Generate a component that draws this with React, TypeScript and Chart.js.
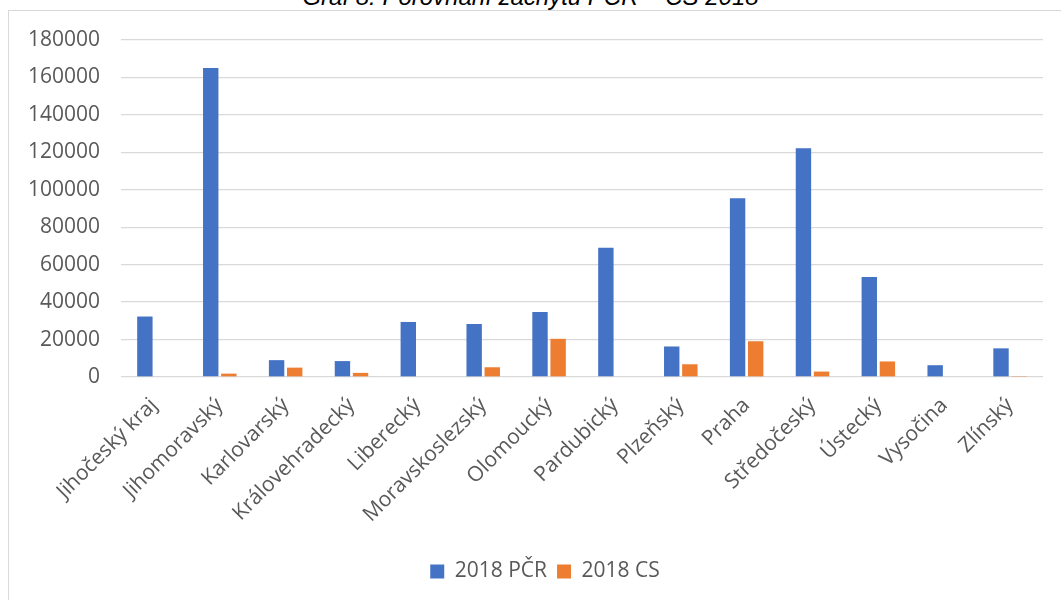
import React, { useEffect, useRef } from "react";
import { Chart, registerables } from "chart.js";

Chart.register(...registerables);

const categories = [
  "Jihočeský kraj",
  "Jihomoravský",
  "Karlovarský",
  "Královehradecký",
  "Liberecký",
  "Moravskoslezský",
  "Olomoucký",
  "Pardubický",
  "Plzeňský",
  "Praha",
  "Středočeský",
  "Ústecký",
  "Vysočina",
  "Zlínský",
];

const pcr2018 = [32300, 165000, 9000, 8500, 29400, 28300, 34700, 69100, 16300, 95500, 122200, 53400, 6300, 15300];
const cs2018 = [0, 1800, 5000, 2200, 0, 5200, 20400, 0, 6800, 19100, 2900, 8300, 0, 500];

const yTicks = [0, 20000, 40000, 60000, 80000, 100000, 120000, 140000, 160000, 180000];

const titleText = "Graf 8: Porovnání záchytů PČR – CS 2018";
const seriesNames = ["2018 PČR", "2018 CS"];

const legendShift = {
  id: "legendShift",
  afterLayout(chart: any) {
    if (chart.legend) {
      chart.legend.left += 19;
      chart.legend.right += 19;
    }
  },
};

export default function App() {
  const ref = useRef<HTMLCanvasElement | null>(null);

  useEffect(() => {
    if (!ref.current) return;
    const font = "'Open Sans', sans-serif";
    const chart = new Chart(ref.current, {
      type: "bar",
      data: {
        labels: categories,
        datasets: [
          {
            label: seriesNames[0],
            data: pcr2018,
            backgroundColor: "#4472C4",
            categoryPercentage: 0.55,
            barPercentage: 0.85,
          },
          {
            label: seriesNames[1],
            data: cs2018,
            backgroundColor: "#ED7D31",
            categoryPercentage: 0.55,
            barPercentage: 0.85,
          },
        ],
      },
      options: {
        animation: false,
        responsive: false,
        maintainAspectRatio: false,
        layout: { padding: { top: 29, right: 18, bottom: 8, left: 0 } },
        plugins: {
          title: { display: false },
          tooltip: { enabled: false },
          legend: {
            position: "bottom",
            labels: {
              boxWidth: 14,
              boxHeight: 14,
              padding: 10,
              color: "#595959",
              font: { family: font, size: 21 },
            },
          },
        },
        scales: {
          x: {
            grid: { display: false },
            border: { display: false },
            ticks: {
              color: "#595959",
              font: { family: font, size: 21 },
              minRotation: 45,
              maxRotation: 45,
              autoSkip: false,
              padding: 8,
            },
            afterFit: (scale: any) => {
              scale.height = 174;
            },
          },
          y: {
            min: 0,
            max: 180000,
            afterBuildTicks: (scale: any) => {
              scale.ticks = yTicks.map((v) => ({ value: v }));
            },
            grid: { color: "#d9d9d9", lineWidth: 1.3, drawTicks: false },
            border: { display: false },
            ticks: {
              color: "#595959",
              font: { family: font, size: 21 },
              padding: 21,
              callback: (v: any) => String(v),
            },
            afterFit: (scale: any) => {
              scale.width = 112;
              scale.paddingTop = 0;
              scale.paddingBottom = 0;
            },
          },
        },
      },
      plugins: [legendShift],
    });
    return () => chart.destroy();
  }, []);

  return (
    <div
      style={{
        position: "absolute",
        left: 0,
        top: 0,
        width: 1061,
        height: 600,
        overflow: "hidden",
        background: "#fff",
      }}
    >
      <div
        style={{
          position: "absolute",
          left: 0,
          width: 1061,
          top: -15,
          textAlign: "center",
          fontFamily: "'Liberation Sans', Arial, sans-serif",
          fontStyle: "italic",
          fontSize: 24,
          lineHeight: "24px",
          color: "#000",
        }}
      >
        {titleText}
      </div>
      <div
        style={{
          position: "absolute",
          left: 8,
          top: 10,
          width: 1100,
          height: 700,
          border: "1px solid #d9d9d9",
          boxSizing: "border-box",
        }}
      />
      <canvas
        ref={ref}
        width={1052}
        height={589}
        style={{ position: "absolute", left: 9, top: 11, width: 1052, height: 589 }}
      />
    </div>
  );
}
